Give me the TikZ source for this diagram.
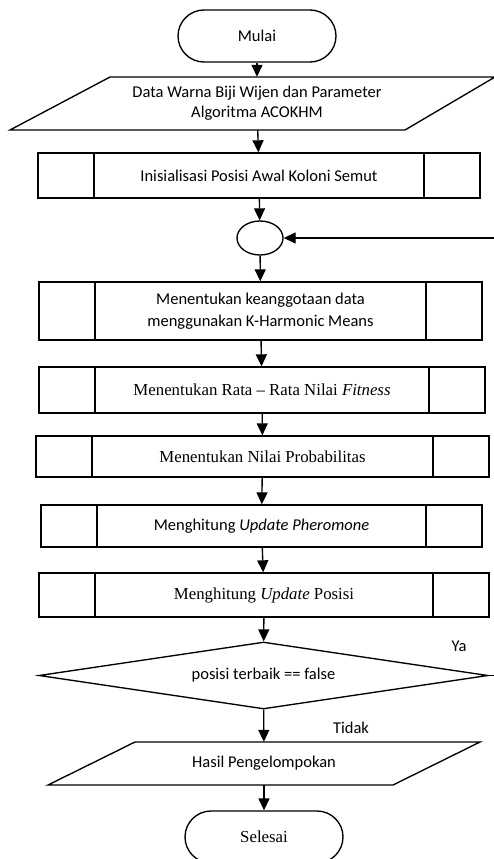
\documentclass[tikz,border=0pt]{standalone}
\usepackage{fontspec}
\setmainfont{Carlito}
\newfontfamily\tms{Liberation Serif}
\usetikzlibrary{arrows.meta,shapes.geometric}
\begin{document}
\begin{tikzpicture}[x=1pt,y=-1pt,
  every node/.style={font=\fontsize{16.5}{22}\selectfont},
  tmsfont/.style={font=\tms\fontsize{16.8}{20}\selectfont},
  ln/.style={line width=1.35pt},
  arr/.style={line width=1.35pt,-{Triangle[width=11pt,length=12pt]}},
  term/.style={draw,ln,rectangle,rounded corners=26pt,minimum width=158pt,minimum height=52pt,inner sep=0pt},
  procbox/.style={draw,ln,rectangle,inner sep=0pt,align=center,
    path picture={
      \draw[line width=1.35pt] ([xshift=56pt]path picture bounding box.north west) -- ([xshift=56pt]path picture bounding box.south west);
      \draw[line width=1.35pt] ([xshift=-56pt]path picture bounding box.north east) -- ([xshift=-56pt]path picture bounding box.south east);}},
  iotext/.style={inner sep=0pt,align=center},
  lbl/.style={inner sep=0pt}
]
\useasboundingbox (0,0) rectangle (494,859);
\clip (0,0) rectangle (494,859);
\fill[white] (0,0) rectangle (494,859);

\node[term] (mulai) at (257,36) {Mulai};

\node[iotext,minimum width=300pt,minimum height=53pt] (data) at (257,103.5)
  {\raisebox{-4.5pt}{\fontsize{16.5}{20}\selectfont\begin{tabular}{@{}c@{}}Data Warna Biji Wijen dan Parameter\\Algoritma ACOKHM\end{tabular}}};
\draw[ln] (110,77) -- (495,77) -- (405,130) -- (10,130) -- cycle;

\node[procbox,minimum width=442pt,minimum height=45pt] (b1) at (259,175.5) {Inisialisasi Posisi Awal Koloni Semut};

\node[ellipse,draw,ln,minimum width=46pt,minimum height=34pt,inner sep=0pt] (circ) at (260,238) {};

\node[procbox,minimum width=443pt,minimum height=58pt] (b2) at (260.5,311) {Menentukan keanggotaan data\\menggunakan K-Harmonic Means};

\node[procbox,minimum width=446pt,minimum height=46pt,tmsfont] (b3) at (262,390) {Menentukan Rata – Rata Nilai \textit{Fitness}};

\node[procbox,minimum width=453pt,minimum height=41pt,tmsfont] (b4) at (262.5,456.5) {Menentukan Nilai Probabilitas};

\node[procbox,minimum width=441pt,minimum height=42pt] (b5) at (261.5,526) {Menghitung \textit{Update Pheromone}};

\node[procbox,minimum width=450pt,minimum height=44pt,tmsfont] (b6) at (264,595) {Menghitung \textit{Update} Posisi};

\node[diamond,draw,ln,aspect=6.7,minimum width=449pt,minimum height=67pt,inner sep=0pt] (dec) at (263.5,675.5) {posisi terbaik == false};

\node[iotext,minimum width=200pt,minimum height=43pt] (res) at (264,763.5) {Hasil Pengelompokan};
\draw[ln] (135,742) -- (480,742) -- (393,785) -- (48,785) -- cycle;

\node[term,tmsfont] (sel) at (264,837) {Selesai};

\node[lbl] (ya) at (459,646) {Ya};
\node[lbl] (tidak) at (351,728) {Tidak};

\coordinate (rt) at (530,0);

\draw[arr] (mulai) -- (data);
\draw[arr] (data) -- (b1);
\draw[arr] (b1) -- (circ);
\draw[arr] (circ) -- (b2);
\draw[arr] (b2) -- (b3);
\draw[arr] (b3) -- (b4);
\draw[arr] (b4) -- (b5);
\draw[arr] (b5) -- (b6);
\draw[arr] (b6) -- (dec);
\draw[arr] (dec) -- (res);
\draw[arr] (res) -- (sel);
\draw[arr] (dec.east) -- (dec.east -| rt) |- (circ);
\end{tikzpicture}
\end{document}
